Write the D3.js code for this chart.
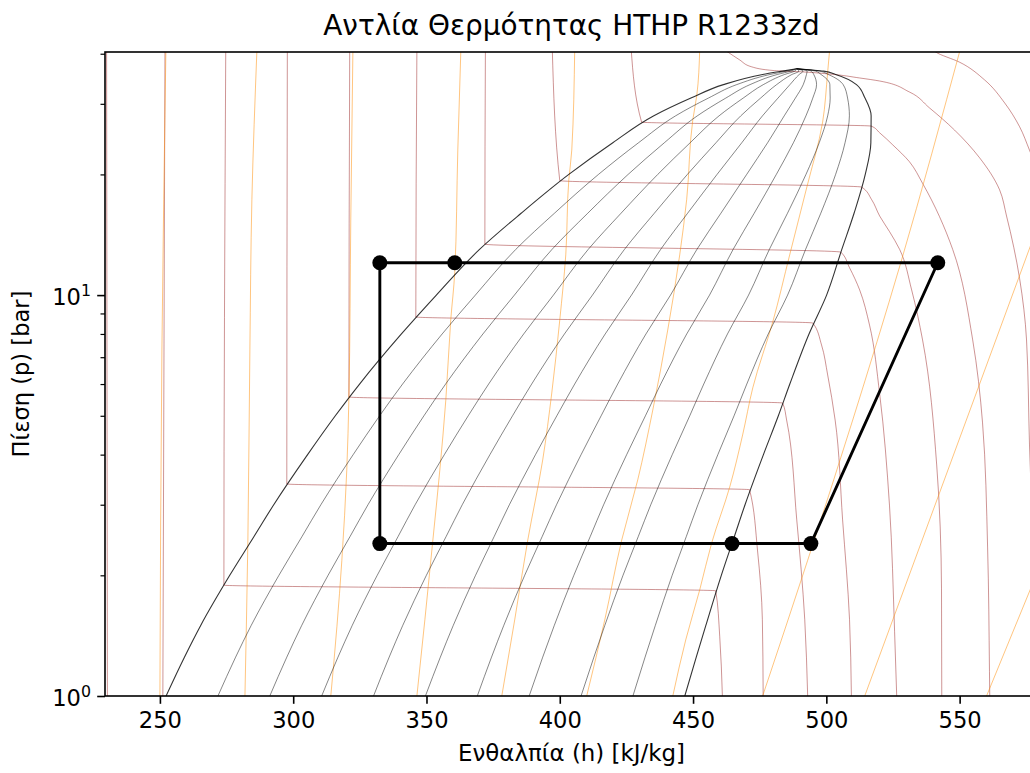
<!DOCTYPE html>
<html>
<head>
<meta charset="utf-8">
<script src="https://cdn.jsdelivr.net/npm/d3@7"></script>
<style>
  body { margin: 0; background: #fff; }
  svg { display: block; }
  text { font-family: "DejaVu Sans", sans-serif; fill: #000; }
</style>
</head>
<body>
<svg id="chart" width="1030" height="773"></svg>
<script>
// ---- R1233zd pressure-enthalpy data (h in kJ/kg, p in bar) ----

// Saturation dome, sampled at common pressures
const satP    = [1, 1.25, 1.5, 2, 2.5, 3, 4, 5, 6, 8, 10, 13, 16, 20, 24, 28, 31, 33.5, 35.5, 36.2, 36.7];
const satLiqH = [252.3, 259.2, 265.3, 276.2, 285.3, 292.7, 305.4, 315.8, 324.9, 340.6, 353.7, 369.9, 385.5, 403.4, 419.9, 435.3, 449.2, 461.4, 476.1, 483.5, 488.9];
const satVapH = [446.9, 451.2, 454.8, 460.6, 465.5, 469.5, 476.4, 482.0, 486.3, 493.5, 500.1, 505.8, 510.4, 514.6, 516.7, 516.8, 514.5, 511.3, 503.5, 499.0, 488.9];

// Vapour-quality isolines drawn inside the dome
const qualityLevels = [0.1, 0.2, 0.3, 0.4, 0.5, 0.6, 0.7, 0.8, 0.9];

// Isotherms, each listed from high to low pressure: [h, p]
const isotherms = [
  [[230.0, 41], [230.3, 1.0]],
  [[251.9, 41], [251.1, 1.0]],
  [[274.7, 41], [274.0, 1.89], [458.5, 1.83], [460.0, 1.41], [461.0, 1.0]],
  [[297.8, 41], [297.6, 3.38], [471.2, 3.27], [474.2, 2.30], [476.0, 1.55], [476.3, 1.0]],
  [[321.2, 41], [320.9, 5.57], [483.6, 5.38], [485.1, 4.88], [488.9, 2.75], [491.9, 1.55], [493.0, 1.0]],
  [[346.4, 41], [346.0, 8.82], [494.9, 8.52], [498.2, 7.51], [500.5, 6.32], [503.3, 4.88], [506.1, 2.75], [508.7, 1.55], [509.4, 1.0]],
  [[372.1, 41], [371.9, 13.4], [505.4, 12.8], [508.7, 11.7], [512.5, 10.3], [516.2, 8.42], [520.0, 5.67], [523.7, 2.98], [525.6, 1.45], [526.4, 1.0]],
  [[397.2, 41], [400.0, 19.3], [513.2, 18.6], [517.0, 17.3], [520.0, 15.75], [523.7, 14.4], [527.5, 13.0], [532.0, 10.3], [536.1, 7.73], [541.4, 3.77], [543.2, 1.85], [543.3, 1.0]],
  [[426.8, 41], [430.7, 27.0], [516.8, 26.4], [520.0, 25.4], [524.9, 23.7], [531.2, 21.5], [536.1, 19.0], [547.4, 13.0], [554.9, 7.73], [558.6, 4.80], [560.5, 2.34], [561.2, 1.15], [561.3, 1.0]],
  [[461.5, 41.0], [463.0, 40.4], [467.5, 38.6], [472.0, 37.1], [480.6, 36.3], [488.9, 36.1], [501.2, 35.6], [512.5, 34.8], [520.0, 34.2], [531.2, 32.1], [538.7, 29.3], [548.1, 25.8], [557.5, 22.0], [565.0, 18.3], [567.6, 15.75], [572.5, 11.0], [575.1, 7.73], [576.2, 4.25], [577.7, 2.18], [578.9, 1.0]],
  [[539.5, 41.2], [541.0, 40.4], [550.0, 38.1], [559.4, 34.4], [566.9, 30.15], [572.5, 26.3], [576.2, 23.0], [581.9, 18.3]]
];

// Isentropes, each listed from high to low pressure: [h, p]
const isentropes = [
  [[252.25, 41], [250.75, 7.3], [250.0, 1.0]],
  [[286.4, 41], [284.5, 17.3], [283.75, 7.3], [283.0, 2.45], [281.9, 1.0]],
  [[322.4, 41], [321.6, 15.4], [320.9, 5.57], [320.1, 3.66], [318.25, 2.18], [316.4, 1.49], [314.1, 1.0]],
  [[362.9, 41], [361.75, 23.0], [360.6, 11.4], [359.1, 8.67], [357.25, 5.47], [355.0, 3.66], [352.4, 2.45], [349.4, 1.55], [346.4, 1.0]],
  [[405.6, 41], [404.5, 23.0], [403.4, 19.4], [402.25, 12.6], [400.0, 8.67], [397.0, 5.70], [393.6, 3.88], [388.0, 2.45], [383.1, 1.55], [378.25, 1.0]],
  [[452.5, 41], [451.4, 31.5], [449.9, 27.35], [447.6, 17.3], [445.0, 12.6], [440.5, 8.18], [434.9, 5.17], [429.25, 3.46], [423.25, 2.45], [416.9, 1.55], [410.1, 1.0]],
  [[501.25, 41], [500.5, 36.0], [498.6, 27.0], [492.6, 18.5], [486.25, 12.6], [479.9, 8.57], [472.4, 5.87], [468.6, 4.48], [463.75, 3.32], [457.0, 2.41], [452.5, 1.84], [447.25, 1.38], [442.4, 1.0]],
  [[550.7, 42.1], [527.9, 12.03], [509.9, 4.88], [493.0, 2.18], [476.1, 1.0]],
  [[580.0, 15.3], [514.4, 1.0]],
  [[580.0, 2.1], [560.1, 1.0]]
];

// Heat-pump cycle state points (compressor inlet first), closed loop
const cycleH = [494.2, 541.8, 360.6, 332.5, 332.5, 464.6];
const cycleP = [2.40, 12.04, 12.04, 12.04, 2.40, 2.40];

// Axis ticks
const hTicks = [250, 300, 350, 400, 450, 500, 550];
const pMajorTicks = [1, 10];
const pMajorLabels = ["0", "1"];
const pMinorTicks = [2, 3, 4, 5, 6, 7, 8, 9, 20, 30, 40];

// ---- Layout ----
const plot = { left: 105, right: 1038, top: 52, bottom: 696 };
const hDomain = [229.4, 579.4];
const pDomain = [1, 40.4];

const svg = d3.select("#chart");
const x = d3.scaleLinear().domain(hDomain).range([plot.left, plot.right]);
const y = d3.scaleLog().domain(pDomain).range([plot.bottom, plot.top]);

svg.append("defs").append("clipPath").attr("id", "plot-clip")
  .append("rect")
  .attr("x", plot.left).attr("y", plot.top)
  .attr("width", plot.right - plot.left).attr("height", plot.bottom - plot.top);

const g = svg.append("g").attr("clip-path", "url(#plot-clip)");

const smoothLine = d3.line()
  .x(d => x(d[0]))
  .y(d => y(d[1]))
  .curve(d3.curveMonotoneY);

// Isotherms
g.append("g").selectAll("path").data(isotherms).join("path")
  .attr("d", smoothLine)
  .attr("fill", "none")
  .attr("stroke", "#8b0000")
  .attr("stroke-opacity", 0.42)
  .attr("stroke-width", 1);

// Isentropes
g.append("g").selectAll("path").data(isentropes).join("path")
  .attr("d", smoothLine)
  .attr("fill", "none")
  .attr("stroke", "#ff8c00")
  .attr("stroke-opacity", 0.5)
  .attr("stroke-width", 1);

// Quality lines inside the dome
const qualityLines = qualityLevels.map(q =>
  satP.map((p, i) => [satLiqH[i] + q * (satVapH[i] - satLiqH[i]), p]));
g.append("g").selectAll("path").data(qualityLines).join("path")
  .attr("d", smoothLine)
  .attr("fill", "none")
  .attr("stroke", "#000")
  .attr("stroke-opacity", 0.6)
  .attr("stroke-width", 0.8);

// Saturated liquid and saturated vapour lines
const satLiquid = satP.map((p, i) => [satLiqH[i], p]);
const satVapour = satP.map((p, i) => [satVapH[i], p]);
g.append("g").selectAll("path").data([satLiquid, satVapour]).join("path")
  .attr("d", smoothLine)
  .attr("fill", "none")
  .attr("stroke", "#000")
  .attr("stroke-opacity", 0.8)
  .attr("stroke-width", 1.1);

// Cycle
const cyclePts = cycleH.map((h, i) => [h, cycleP[i]]);
g.append("path")
  .attr("d", d3.line().x(d => x(d[0])).y(d => y(d[1])).curve(d3.curveLinearClosed)(cyclePts))
  .attr("fill", "none")
  .attr("stroke", "#000")
  .attr("stroke-width", 2.9)
  .attr("stroke-linejoin", "round");
g.append("g").selectAll("circle").data(cyclePts).join("circle")
  .attr("cx", d => x(d[0]))
  .attr("cy", d => y(d[1]))
  .attr("r", 7.5)
  .attr("fill", "#000");

// ---- Axes ----
const tickColor = "#000";
const xAxis = svg.append("g")
  .attr("transform", `translate(0,${plot.bottom})`)
  .call(d3.axisBottom(x).tickValues(hTicks).tickFormat(d3.format("d"))
    .tickSize(7.8).tickPadding(7.8).tickSizeOuter(0));
xAxis.select(".domain").remove();
xAxis.selectAll(".tick line").attr("stroke", tickColor).attr("stroke-width", 1.6);
xAxis.selectAll(".tick text")
  .attr("font-family", "DejaVu Sans, sans-serif")
  .attr("font-size", 22.6)
  .attr("fill", "#000");

const yMajor = svg.append("g")
  .attr("transform", `translate(${plot.left},0)`)
  .call(d3.axisLeft(y).tickValues(pMajorTicks).tickFormat(() => "").tickSize(7.8).tickSizeOuter(0));
yMajor.select(".domain").remove();
yMajor.selectAll(".tick line").attr("stroke", tickColor).attr("stroke-width", 1.6);

const yMinor = svg.append("g")
  .attr("transform", `translate(${plot.left},0)`)
  .call(d3.axisLeft(y).tickValues(pMinorTicks).tickFormat(() => "").tickSize(4.5).tickSizeOuter(0));
yMinor.select(".domain").remove();
yMinor.selectAll(".tick line").attr("stroke", tickColor).attr("stroke-width", 1.2);

// Power-of-ten tick labels
pMajorTicks.forEach((p, i) => {
  const t = svg.append("text")
    .attr("x", plot.left - 14)
    .attr("y", y(p) + 10)
    .attr("text-anchor", "end")
    .attr("font-size", 22.6);
  t.append("tspan").text("10");
  t.append("tspan").attr("dy", -9).attr("font-size", 15.8).text(pMajorLabels[i]);
});

// Frame (left, bottom, top; the right edge lies past the canvas)
svg.append("rect")
  .attr("x", plot.left).attr("y", plot.top)
  .attr("width", plot.right - plot.left).attr("height", plot.bottom - plot.top)
  .attr("fill", "none").attr("stroke", "#000").attr("stroke-width", 1.6);

// Titles
const cx = (plot.left + plot.right) / 2;
svg.append("text")
  .attr("x", cx).attr("y", 35)
  .attr("text-anchor", "middle")
  .attr("font-size", 27.9)
  .text("Αντλία Θερμότητας HTHP R1233zd");

svg.append("text")
  .attr("x", cx).attr("y", 761)
  .attr("text-anchor", "middle")
  .attr("font-size", 22.9)
  .text("Ενθαλπία (h) [kJ/kg]");

svg.append("text")
  .attr("transform", `translate(29,${(plot.top + plot.bottom) / 2}) rotate(-90)`)
  .attr("text-anchor", "middle")
  .attr("font-size", 22.6)
  .text("Πίεση (p) [bar]");
</script>
</body>
</html>
